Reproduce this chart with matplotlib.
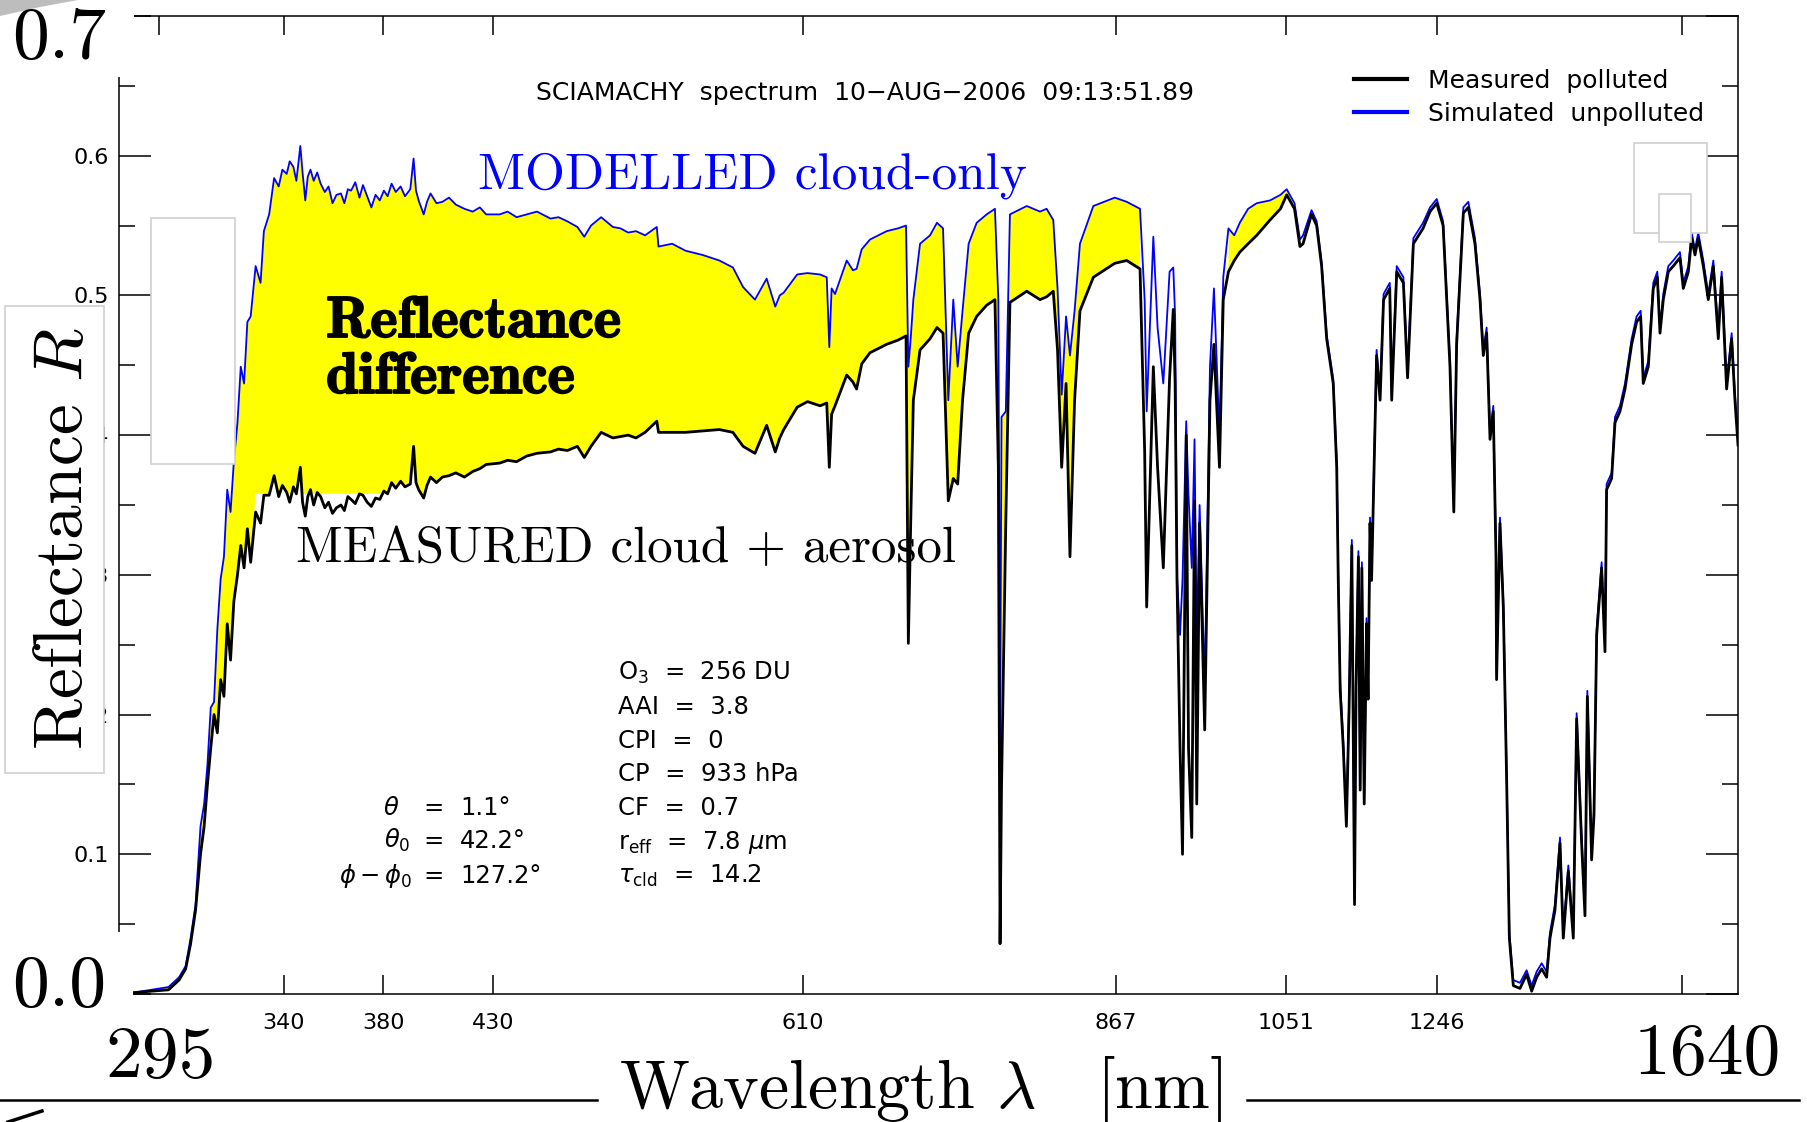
import numpy as np
import matplotlib
matplotlib.use('Agg')
import matplotlib.pyplot as plt
import matplotlib.patheffects as pe
from matplotlib.patches import Rectangle, Polygon
from matplotlib.lines import Line2D

plt.rcParams['mathtext.fontset'] = 'cm'

W, H, DPI = 1807, 1122, 100

# ── Spectrum, per SCIAMACHY channel ──────────────────────────────────
# wavelength [nm], simulated (cloud only) and measured reflectance
WL_UV = [294.5, 305.0, 308.2, 310.2, 311.7, 313.2, 314.7, 315.8, 316.8, 317.8,
         318.8, 319.8, 320.8, 321.8, 322.8, 323.8, 324.8, 325.9, 326.9, 327.9,
         328.9, 329.9, 331.4, 332.9, 333.9, 335.5, 337.0]
SIM_UV = [0.001, 0.005, 0.012, 0.020, 0.040, 0.064, 0.120, 0.136, 0.164, 0.205,
          0.209, 0.261, 0.297, 0.313, 0.361, 0.345, 0.381, 0.409, 0.449, 0.437,
          0.481, 0.485, 0.521, 0.509, 0.546, 0.558, 0.584]
MEAS_UV = [0.001, 0.003, 0.010, 0.018, 0.036, 0.060, 0.100, 0.120, 0.150, 0.176,
           0.200, 0.187, 0.225, 0.213, 0.265, 0.239, 0.281, 0.300, 0.321, 0.305,
           0.333, 0.309, 0.345, 0.337, 0.357, 0.357, 0.371]

WL_VIS = [338.4, 339.5, 341.1, 342.3, 343.8, 345.0, 346.6, 347.5, 348.6, 349.6,
          350.7, 352.0, 353.4, 354.8, 356.5, 358.0, 359.6, 361.2, 363.0, 364.4,
          365.8, 367.1, 368.8, 370.5, 371.9, 373.6, 375.3, 377.0, 378.7, 380.4,
          382.1, 383.9, 385.8, 388.0, 390.0, 392.4, 393.9, 395.0, 396.2, 398.5,
          400.0, 401.6, 404.3, 407.0, 410.0, 413.1, 417.0, 420.8, 424.0, 426.9,
          433.9, 438.5, 443.7, 449.5, 455.5, 463.4, 468.0, 473.2, 479.0, 483.0,
          486.9, 492.8, 499.6, 504.0, 508.5, 513.0, 518.3, 525.1, 526.1, 534.0,
          541.8, 551.6, 561.4, 569.3, 575.2, 582.1, 588.9, 593.9, 596.5, 598.8,
          606.6, 613.7, 624.0, 629.5, 631.6, 633.5, 636.3, 645.9, 651.0, 654.0,
          658.2, 665.0, 678.7, 688.0, 694.6]
SIM_VIS = [0.578, 0.590, 0.587, 0.596, 0.592, 0.582, 0.607, 0.588, 0.568, 0.585,
           0.590, 0.582, 0.588, 0.580, 0.574, 0.578, 0.566, 0.572, 0.573, 0.566,
           0.576, 0.575, 0.581, 0.570, 0.579, 0.571, 0.563, 0.572, 0.568, 0.575,
           0.571, 0.580, 0.574, 0.578, 0.571, 0.576, 0.598, 0.575, 0.568, 0.558,
           0.567, 0.573, 0.566, 0.567, 0.570, 0.565, 0.562, 0.560, 0.563, 0.558,
           0.558, 0.560, 0.556, 0.558, 0.560, 0.555, 0.556, 0.553, 0.549, 0.542,
           0.550, 0.556, 0.549, 0.548, 0.545, 0.546, 0.543, 0.549, 0.535, 0.537,
           0.532, 0.529, 0.525, 0.520, 0.506, 0.497, 0.512, 0.492, 0.500, 0.502,
           0.515, 0.516, 0.515, 0.513, 0.463, 0.505, 0.501, 0.525, 0.518, 0.519,
           0.533, 0.540, 0.546, 0.548, 0.550]
MEAS_VIS = [0.356, 0.364, 0.359, 0.352, 0.363, 0.358, 0.377, 0.352, 0.342, 0.356,
            0.361, 0.350, 0.359, 0.356, 0.348, 0.352, 0.344, 0.348, 0.350, 0.346,
            0.356, 0.354, 0.351, 0.358, 0.357, 0.352, 0.349, 0.355, 0.354, 0.360,
            0.358, 0.366, 0.362, 0.367, 0.363, 0.365, 0.392, 0.366, 0.361, 0.355,
            0.364, 0.370, 0.366, 0.370, 0.371, 0.373, 0.370, 0.374, 0.376, 0.379,
            0.380, 0.382, 0.381, 0.385, 0.387, 0.388, 0.390, 0.389, 0.392, 0.384,
            0.392, 0.402, 0.398, 0.399, 0.400, 0.398, 0.402, 0.410, 0.402, 0.402,
            0.402, 0.403, 0.404, 0.402, 0.392, 0.387, 0.407, 0.388, 0.398, 0.404,
            0.420, 0.424, 0.421, 0.423, 0.377, 0.415, 0.421, 0.443, 0.438, 0.433,
            0.451, 0.459, 0.465, 0.468, 0.471]

WL_NIR = [696.5, 698.5, 700.6, 706.1, 714.3, 720.0, 725.0, 729.3, 733.4, 737.0,
          741.0, 746.0, 752.6, 760.8, 767.6, 770.4, 771.8, 773.0, 776.5, 779.9,
          793.7, 804.6, 810.0, 815.5, 819.0, 822.4, 826.0, 829.2, 833.0, 837.4,
          848.4, 866.0, 878.6, 893.0, 898.0, 900.2, 907.4, 912.0, 918.2, 925.0,
          929.0, 931.0, 933.0, 936.3, 939.0, 943.0, 945.5, 949.0, 952.0, 954.4,
          957.5, 963.0, 968.7, 973.0, 979.0, 983.1, 988.7, 995.0, 1001.0, 1010.0,
          1019.3, 1033.7, 1045.0, 1051.9, 1062.0]
SIM_NIR = [0.449, 0.470, 0.497, 0.537, 0.543, 0.552, 0.548, 0.425, 0.497, 0.449,
           0.489, 0.537, 0.552, 0.558, 0.562, 0.497, 0.176, 0.413, 0.417, 0.558,
           0.564, 0.560, 0.562, 0.554, 0.505, 0.429, 0.485, 0.457, 0.489, 0.537,
           0.564, 0.570, 0.567, 0.562, 0.497, 0.417, 0.542, 0.477, 0.437, 0.517,
           0.520, 0.485, 0.300, 0.257, 0.297, 0.410, 0.357, 0.305, 0.397, 0.250,
           0.350, 0.220, 0.449, 0.505, 0.400, 0.513, 0.548, 0.543, 0.552, 0.562,
           0.566, 0.568, 0.572, 0.576, 0.566]
MEAS_NIR = [0.251, 0.340, 0.425, 0.461, 0.469, 0.477, 0.473, 0.353, 0.369, 0.365,
            0.425, 0.473, 0.485, 0.493, 0.497, 0.377, 0.036, 0.148, 0.337, 0.495,
            0.503, 0.497, 0.499, 0.503, 0.461, 0.377, 0.437, 0.313, 0.425, 0.489,
            0.513, 0.523, 0.525, 0.519, 0.389, 0.277, 0.449, 0.377, 0.305, 0.441,
            0.490, 0.437, 0.297, 0.176, 0.100, 0.400, 0.176, 0.112, 0.353, 0.136,
            0.337, 0.189, 0.425, 0.465, 0.377, 0.497, 0.517, 0.525, 0.531, 0.537,
            0.543, 0.554, 0.562, 0.572, 0.562]

WL_SWIR = [1069.0, 1073.0, 1084.0, 1090.6, 1097.0, 1103.5, 1112.0, 1116.5, 1118.5, 1121.0,
           1125.0, 1129.0, 1132.5, 1136.0, 1139.5, 1141.5, 1144.5, 1146.8, 1149.0, 1152.0,
           1155.0, 1157.0, 1159.5, 1161.5, 1164.0, 1168.0, 1172.5, 1177.0, 1185.0, 1187.5,
           1194.0, 1202.6, 1208.0, 1215.5, 1228.0, 1237.0, 1245.6, 1254.0, 1263.0, 1268.0,
           1271.7, 1280.5, 1287.0, 1295.7, 1302.3, 1306.6, 1311.0, 1315.4, 1319.7, 1323.2,
           1324.0, 1328.4, 1332.8, 1337.2, 1340.7, 1345.9, 1354.6, 1363.3, 1369.9, 1376.4,
           1383.0, 1389.5, 1393.9, 1400.4, 1407.0, 1411.3, 1417.9, 1424.4, 1428.8, 1435.3,
           1439.7, 1442.8, 1448.4, 1451.5, 1455.0, 1461.5, 1465.9, 1468.0, 1474.6, 1479.0,
           1485.5, 1492.1, 1500.8, 1507.3, 1512.6, 1516.0, 1522.6, 1529.1, 1534.4, 1537.9,
           1542.2, 1548.8, 1555.3, 1564.0, 1568.4, 1575.0, 1579.3, 1583.7, 1588.0, 1594.6,
           1601.1, 1607.7, 1614.2, 1618.6, 1625.1, 1631.7, 1636.0, 1640.0]
SIM_SWIR = [0.540, 0.543, 0.561, 0.553, 0.524, 0.472, 0.440, 0.381, 0.300, 0.222,
            0.180, 0.124, 0.210, 0.325, 0.068, 0.225, 0.317, 0.150, 0.309, 0.140,
            0.269, 0.215, 0.341, 0.300, 0.361, 0.461, 0.429, 0.501, 0.509, 0.429,
            0.521, 0.513, 0.445, 0.541, 0.552, 0.563, 0.569, 0.553, 0.453, 0.349,
            0.469, 0.563, 0.567, 0.541, 0.501, 0.461, 0.477, 0.401, 0.421, 0.317,
            0.229, 0.341, 0.281, 0.156, 0.044, 0.010, 0.008, 0.017, 0.006, 0.016,
            0.022, 0.016, 0.044, 0.064, 0.112, 0.044, 0.092, 0.044, 0.201, 0.112,
            0.060, 0.217, 0.100, 0.132, 0.261, 0.309, 0.249, 0.365, 0.373, 0.413,
            0.421, 0.437, 0.469, 0.485, 0.489, 0.441, 0.453, 0.509, 0.517, 0.477,
            0.501, 0.521, 0.525, 0.531, 0.509, 0.521, 0.545, 0.533, 0.545, 0.525,
            0.501, 0.525, 0.473, 0.517, 0.437, 0.473, 0.429, 0.397]
MEAS_SWIR = [0.535, 0.537, 0.558, 0.550, 0.521, 0.469, 0.437, 0.377, 0.296, 0.217,
             0.176, 0.120, 0.205, 0.321, 0.064, 0.220, 0.313, 0.146, 0.305, 0.136,
             0.265, 0.211, 0.337, 0.296, 0.357, 0.457, 0.425, 0.497, 0.505, 0.425,
             0.517, 0.509, 0.441, 0.537, 0.548, 0.560, 0.566, 0.550, 0.449, 0.345,
             0.465, 0.559, 0.563, 0.537, 0.497, 0.457, 0.473, 0.397, 0.417, 0.313,
             0.225, 0.337, 0.277, 0.152, 0.040, 0.006, 0.004, 0.014, 0.002, 0.012,
             0.018, 0.012, 0.040, 0.060, 0.108, 0.040, 0.088, 0.040, 0.197, 0.108,
             0.056, 0.213, 0.096, 0.128, 0.257, 0.305, 0.245, 0.361, 0.369, 0.409,
             0.417, 0.433, 0.465, 0.481, 0.485, 0.437, 0.449, 0.505, 0.513, 0.473,
             0.497, 0.517, 0.521, 0.527, 0.505, 0.517, 0.541, 0.529, 0.541, 0.521,
             0.497, 0.521, 0.469, 0.513, 0.433, 0.469, 0.425, 0.393]

# ticks of the IDL plot (the first top tick has no bottom twin, the last label is covered)
XTICKS = [340, 380, 430, 610, 867, 1051, 1246, 1567]
XTICK_LABELS = ['340', '380', '430', '610', '867', '1051', '1246', '']
XTICK_TOP_ONLY = [302]
YTICK_LABELS = ['', '0.1', '0.2', '0.3', '0.4', '0.5', '0.6', '']

# the spectrometer axis is not linear in wavelength: column layout of the channels
AXIS_WL = [0, 290, 340, 380, 430, 610, 867, 1051, 1246, 1640, 5000]
AXIS_POS = [-957, 0, 165, 264, 374, 684, 997, 1167, 1318, 1619, 4186]


def fwd(x):
    return np.interp(x, AXIS_WL, AXIS_POS)


def inv(p):
    return np.interp(p, AXIS_POS, AXIS_WL)


wl = np.array(WL_UV + WL_VIS + WL_NIR + WL_SWIR)
sim = np.array(SIM_UV + SIM_VIS + SIM_NIR + SIM_SWIR)
meas = np.array(MEAS_UV + MEAS_VIS + MEAS_NIR + MEAS_SWIR)

fig = plt.figure(figsize=(W / DPI, H / DPI), dpi=DPI)
fig.patch.set_facecolor('white')

ax = fig.add_axes([119 / W, 1 - 994 / H, 1619 / W, 978 / H])
ax.set_xscale('function', functions=(fwd, inv))
ax.set_xlim(290, 1640)
ax.set_ylim(0, 0.7)

# yellow "reflectance difference" band (the slide's band stops short of the curve near 340-380 nm)
floor = np.where((wl >= 330) & (wl <= 380), 0.358, 0.0)
lower = np.maximum(meas, floor)
band = (wl <= 897) | ((wl >= 985) & (wl <= 1066))
ax.fill_between(wl, lower, sim, where=band, color='#ffff00', lw=0, zorder=1)

ax.plot(wl, sim, color='#0000ff', lw=1.3, zorder=2)
ax.plot(wl, meas, color='black', lw=2.0, zorder=3)

ax.set_xticks(XTICKS)
ax.set_xticklabels(XTICK_LABELS)
ax.set_xticks(XTICK_TOP_ONLY, minor=True)
ax.set_yticks(np.arange(0, 0.71, 0.1))
ax.set_yticklabels(YTICK_LABELS)
ax.set_yticks(np.arange(0.05, 0.7, 0.1), minor=True)
ax.tick_params(axis='y', which='major', direction='in', length=23, width=1.1,
               left=True, right=True, labelsize=16, pad=7)
ax.tick_params(axis='y', which='minor', direction='in', length=11.5, width=1.1,
               left=True, right=True)
ax.tick_params(axis='x', which='major', direction='in', length=14, width=1.1,
               top=True, bottom=True, labelsize=16, pad=14)
ax.tick_params(axis='x', which='minor', direction='in', length=14, width=1.1,
               top=True, bottom=False)
for s in ax.spines.values():
    s.set_linewidth(1.1)

# IDL header and legend
fig.text(865 / W, 1 - 93 / H, 'SCIAMACHY  spectrum  10\u2212AUG\u22122006  09:13:51.89',
         ha='center', va='center', fontsize=18, family='DejaVu Sans')
handles = [Line2D([], [], color='black', lw=3),
           Line2D([], [], color='#0000ff', lw=3)]
fig.legend(handles, ['Measured  polluted', 'Simulated  unpolluted'],
           loc='upper left', bbox_to_anchor=(1354 / W, 1 - 69 / H),
           frameon=False, fontsize=18, handlelength=2.1, handletextpad=0.86,
           labelspacing=0.36, borderpad=0, borderaxespad=0)

# ── slide overlay (pixel coordinates) ────────────────────────────────
ov = fig.add_axes([0, 0, 1, 1], zorder=10)
ov.set_xlim(0, W)
ov.set_ylim(H, 0)
ov.axis('off')


def box(x0, y0, x1, y1, edge='none'):
    ov.add_patch(Rectangle((x0, y0), x1 - x0, y1 - y0, facecolor='white',
                           edgecolor=edge, lw=1.2))


box(0, 0, 134, 77)
box(0, 932, 133, 1012)
box(5, 306, 104, 773, '#cfcfcf')
box(151, 218, 235, 464, '#cfcfcf')
box(1634, 143, 1707, 233, '#cfcfcf')
box(1659, 194, 1691, 242, '#cfcfcf')

ov.add_patch(Polygon([(0, 0), (78, 0), (40, 7), (0, 16)], closed=True,
                     facecolor='#bdbdbd', edgecolor='none'))
ov.plot([0, 597], [1100, 1100], color='black', lw=1.8)
ov.plot([1247, 1799], [1100, 1100], color='black', lw=1.8)
ov.plot([42, 8], [1111, 1122], color='black', lw=2.5)

serif = dict(family='cmr10')
ov.text(12, 58, '0.7', fontsize=53, ha='left', va='baseline', **serif)
ov.text(12, 1006, '0.0', fontsize=53, ha='left', va='baseline', **serif)
ov.text(105, 1077, '295', fontsize=53, ha='left', va='baseline', **serif)
ov.text(1634, 1074, '1640', fontsize=53, ha='left', va='baseline', **serif)
ov.text(619, 1108, r'Wavelength $\lambda\quad$[nm]', fontsize=49,
        ha='left', va='baseline', **serif)
ov.text(64, 538, r'Reflectance $R$', fontsize=50, rotation=90,
        ha='center', va='center', **serif)
ov.text(478, 188, 'MODELLED cloud-only', fontsize=37, color='#0000ff',
        ha='left', va='baseline', **serif)
ov.text(296, 562, 'MEASURED cloud + aerosol', fontsize=36.7,
        ha='left', va='baseline', **serif)
heavy = [pe.withStroke(linewidth=1.3, foreground='black')]
ov.text(326, 337, 'Reflectance', fontsize=42, family='cmb10',
        ha='left', va='baseline', path_effects=heavy)
ov.text(326, 393, 'difference', fontsize=42, family='cmb10',
        ha='left', va='baseline', path_effects=heavy)

# retrieval parameters
sans = dict(family='DejaVu Sans', math_fontfamily='dejavusans', fontsize=17.5,
            va='baseline')
for lhs, rhs, x_l, y in [(r'$\theta$', '1.1\u00b0', 399, 815),
                         (r'$\theta_0$', '42.2\u00b0', 410, 848),
                         (r'$\phi-\phi_0$', '127.2\u00b0', 412, 883)]:
    ov.text(x_l, y, lhs, ha='right', **sans)
    ov.text(434, y, '=', ha='center', **sans)
    ov.text(460, y, rhs, ha='left', **sans)

PARAMS = [r'O$_3$  =  256 DU', 'AAI  =  3.8', 'CPI  =  0', 'CP  =  933 hPa',
          'CF  =  0.7', r'r$_\mathregular{eff}$  =  7.8 $\mu$m',
          r'$\tau_\mathregular{cld}$  =  14.2']
for i, line in enumerate(PARAMS):
    ov.text(618, 680 + i * 33.8, line, ha='left', **sans)

fig.savefig('out.png', dpi=DPI, facecolor='white')
